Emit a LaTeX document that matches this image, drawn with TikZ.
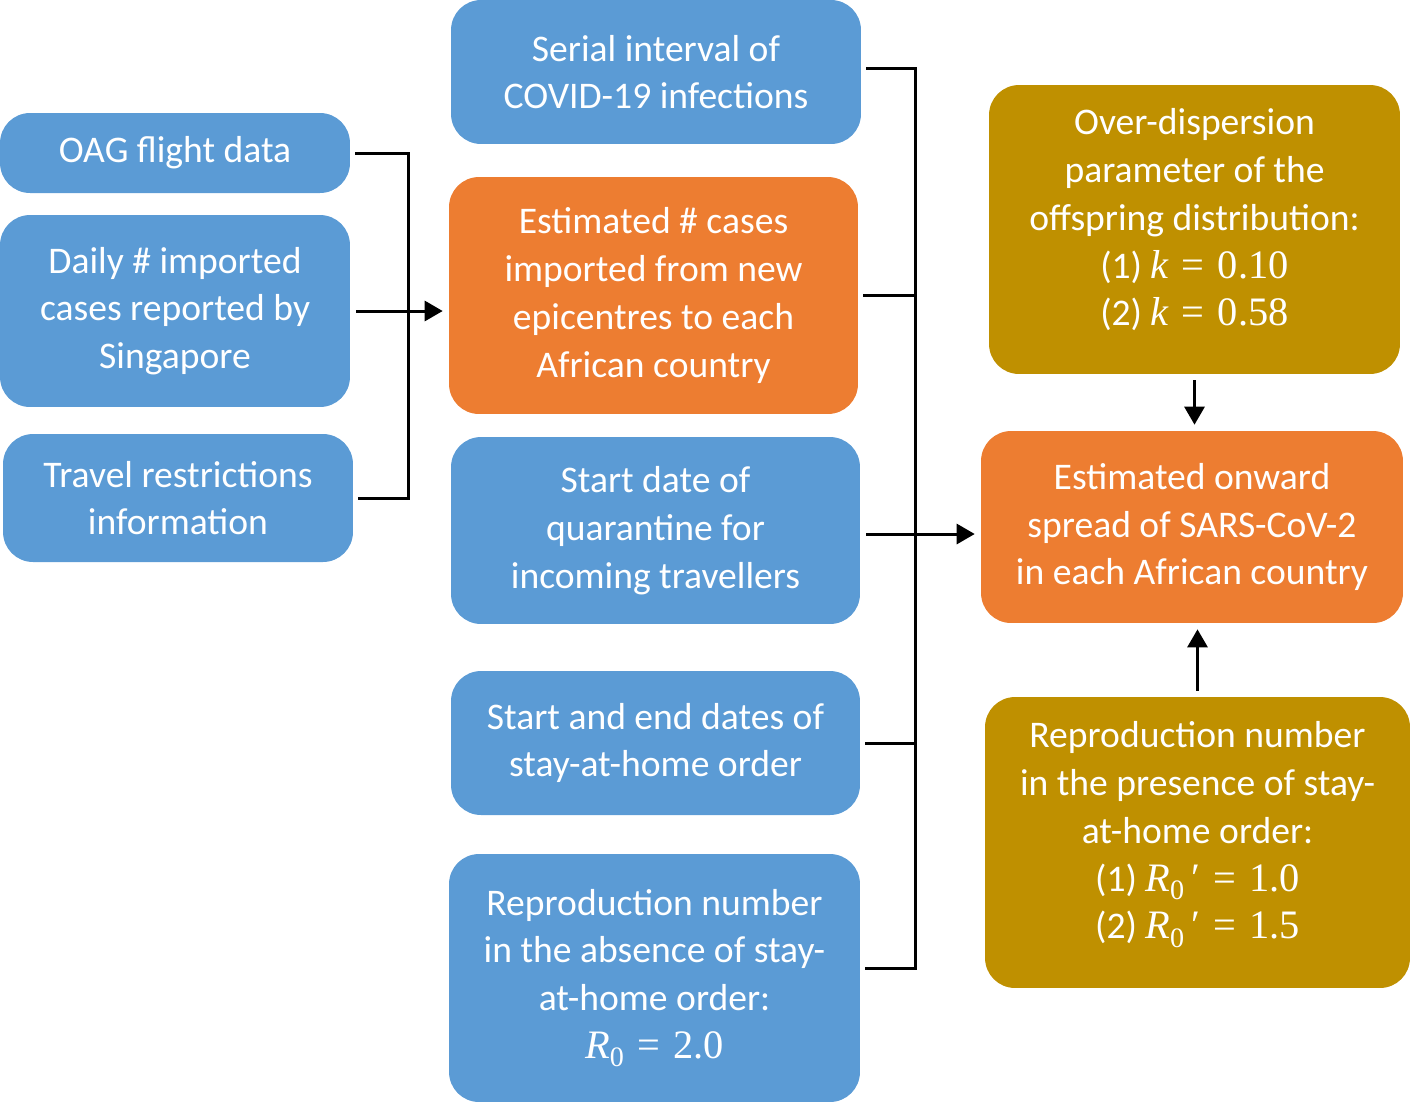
\documentclass[tikz,border=0pt]{standalone}
\usepackage{fontspec}
\setmainfont{Carlito}
\newfontfamily\mf{Liberation Serif}
\usetikzlibrary{arrows.meta}
\definecolor{cblue}{HTML}{5B9BD5}
\definecolor{corange}{HTML}{ED7D31}
\definecolor{cgold}{HTML}{BF9000}
\newcommand\msub[1]{\raisebox{-0.45ex}{\fontsize{16}{16}\selectfont #1}}
\newcommand\mq[1]{{\mf\fontsize{23}{27.2}\selectfont #1}}
\newcommand\meq{\mq{\hspace{0.33em}=\hspace{0.33em}}}
\newcommand\lift{\rule[-14pt]{0pt}{14pt}}
\begin{document}
\begin{tikzpicture}[x=0.02cm,y=-0.02cm,
  box/.style={fill=#1, draw=none, rounded corners=0.6cm, text=white, align=center,
    font=\fontsize{21.4}{27.2}\selectfont, inner sep=0pt},
  conn/.style={line width=1.7pt, line cap=rect, shorten <=0.12cm},
  arr/.style={line width=1.7pt, shorten <=0.12cm, shorten >=0.12cm, -{Triangle[length=0.36cm,width=0.4cm]}}]
\useasboundingbox (0,0) rectangle (1412,1103);

\node[box=cblue, minimum width=7cm, minimum height=1.6cm] (oag) at (175,153) {OAG flight data};
\node[box=cblue, minimum width=7cm, minimum height=3.84cm] (daily) at (175,311) {Daily \# imported\\cases reported by\\Singapore};
\node[box=cblue, minimum width=7cm, minimum height=2.56cm] (travel) at (178,498) {Travel restrictions\\information};

\node[box=cblue, minimum width=8.2cm, minimum height=2.88cm] (serial) at (656,72) {Serial interval of\\COVID-19 infections};
\node[box=corange, minimum width=8.18cm, minimum height=4.74cm] (est) at (653.5,295.5) {Estimated \# cases\\imported from new\\epicentres to each\\African country};
\node[box=cblue, minimum width=8.18cm, minimum height=3.74cm] (quar) at (655.5,530.5) {Start date of\\quarantine for\\incoming travellers};
\node[box=cblue, minimum width=8.18cm, minimum height=2.88cm] (stay) at (655.5,743) {Start and end dates of\\stay-at-home order};
\node[box=cblue, minimum width=8.22cm, minimum height=4.96cm] (repabs) at (654.5,978) {Reproduction number\\in the absence of stay-\\at-home order:\\\mq{\itshape R}\mq{\msub{0}}\meq\mq{2.0}};

\node[box=cgold, minimum width=8.22cm, minimum height=5.78cm] (overd) at (1194.5,229.5) {Over-dispersion\\parameter of the\\offspring distribution:\\(1) \mq{\itshape k}\meq\mq{0.10}\\(2) \mq{\itshape k}\meq\mq{0.58}\lift};
\node[box=corange, minimum width=8.44cm, minimum height=3.84cm] (onward) at (1192,527) {Estimated onward\\spread of SARS-CoV-2\\in each African country};
\node[box=cgold, minimum width=8.5cm, minimum height=5.82cm] (reppres) at (1197.5,842.5) {Reproduction number\\in the presence of stay-\\at-home order:\\(1) \mq{\itshape R}\mq{\msub{0}\,′}\meq\mq{1.0}\\(2) \mq{\itshape R}\mq{\msub{0}\,′}\meq\mq{1.5}\lift};

\coordinate (jl) at (408,0);
\coordinate (jr) at (915,0);
\draw[conn] (oag.east) -- (oag.east -| jl) -- (travel.east -| jl) -- ([xshift=0.12cm]travel.east);
\draw[arr] (daily.east) -- (daily.east -| est.west);
\draw[conn] ([yshift=0.08cm]serial.east) -- ([yshift=0.08cm]serial.east -| jr) -- ([yshift=0.2cm]repabs.east -| jr) -- ([xshift=0.12cm,yshift=0.2cm]repabs.east);
\draw[conn] (est.east) -- (est.east -| jr);
\draw[conn] (stay.east) -- (stay.east -| jr);
\draw[arr] ([yshift=-0.07cm]quar.east) -- ([yshift=-0.07cm]quar.east -| onward.west);
\draw[arr] (overd.south) -- (overd.south |- onward.north);
\draw[arr] (reppres.north) -- (reppres.north |- onward.south);
\end{tikzpicture}
\end{document}
